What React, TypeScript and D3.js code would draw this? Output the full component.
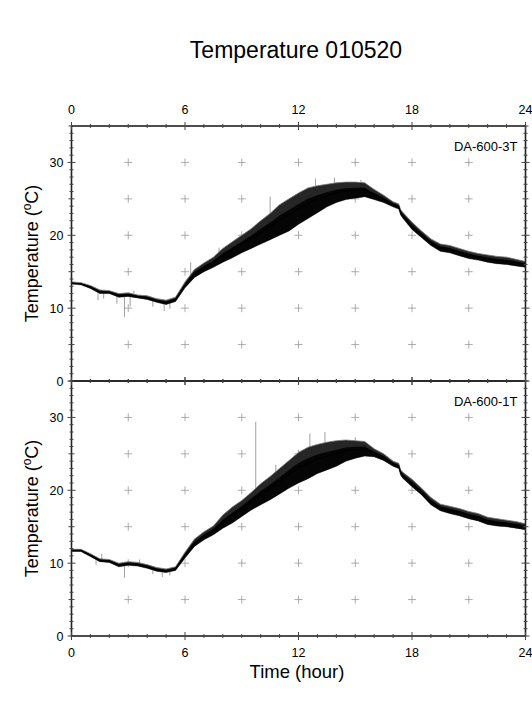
import React from "react";
import * as d3 from "d3";

const hours = [0,0.5,1,1.5,2,2.5,3,3.5,4,4.5,5,5.5,6,6.5,7,7.5,8,8.5,9,9.5,10,10.5,11,11.5,12,12.5,13,13.5,14,14.5,15,15.5,16,16.5,17,17.3,17.4,17.5,18,18.5,19,19.5,20,20.5,21,21.5,22,22.5,23,23.5,24];

const low3T = [13.3,13.2,12.7,12.0,12.0,11.5,11.6,11.4,11.2,10.8,10.5,10.9,12.8,14.2,15.0,15.6,16.3,16.9,17.6,18.2,18.8,19.4,20.0,20.6,21.5,22.3,23.1,23.9,24.5,24.9,25.1,25.3,24.9,24.5,23.9,23.6,22.8,22.4,20.8,19.7,18.6,17.8,17.6,17.2,16.8,16.6,16.3,16.1,16.0,15.8,15.6];
const high3T = [13.6,13.5,13.1,12.5,12.4,12.0,12.1,11.8,11.7,11.3,11.1,11.5,13.6,15.3,16.2,17.0,18.2,19.1,20.0,20.9,22.0,23.0,24.2,25.0,25.8,26.5,26.8,27.0,27.2,27.3,27.3,27.2,26.3,25.5,24.6,24.3,23.5,23.2,21.8,20.6,19.5,18.8,18.6,18.2,17.8,17.5,17.3,17.1,17.0,16.7,16.4];

const low1T = [11.6,11.6,10.9,10.2,10.1,9.5,9.7,9.6,9.3,8.9,8.7,9.0,10.7,12.3,13.2,13.9,14.8,15.5,16.4,17.3,18.0,18.7,19.5,20.3,21.0,21.6,22.3,22.8,23.3,24.0,24.4,24.7,24.6,24.1,23.3,23.0,22.1,21.7,20.5,19.4,18.0,17.2,16.8,16.5,16.1,15.8,15.3,15.1,15.0,14.8,14.6];
const high1T = [11.9,11.9,11.3,10.6,10.5,10.0,10.2,10.1,9.8,9.4,9.2,9.5,11.5,13.3,14.3,15.1,16.6,17.7,18.6,19.7,20.9,21.9,23.0,24.1,25.2,25.9,26.3,26.6,26.8,26.9,26.8,26.7,25.7,25.0,24.0,23.7,22.8,22.5,21.5,20.3,19.0,18.1,17.8,17.5,17.1,16.8,16.3,16.1,15.9,15.7,15.4];

// outlier spikes: [hour, from, to]
const spikes3T: [number, number, number][] = [[1.4,12.2,11.1],[1.7,12.2,11.3],[2.4,11.8,10.6],[2.8,11.8,8.8],[3.1,11.8,10.2],[3.3,11.6,12.4],[4.3,11.3,10.2],[4.9,11.0,9.6],[5.2,11.0,9.9],[6.3,14.5,16.3],[7.8,17.0,18.3],[10.5,22.0,25.3],[12.9,25.5,27.8],[13.9,26.0,27.9],[15.3,26.5,27.6]];
const spikes1T: [number, number, number][] = [[1.3,10.8,9.8],[1.6,10.5,11.3],[2.8,9.8,8.0],[3.6,9.8,10.5],[4.3,9.4,8.5],[4.8,9.2,8.1],[5.2,9.2,8.3],[9.74,19.0,29.4],[10.8,21.0,23.5],[12.6,24.5,27.8],[13.4,25.5,28.0],[15.0,26.0,27.3]];

const panelNames = ["DA-600-3T", "DA-600-1T"];
const xTickLabels = [0, 6, 12, 18, 24];
const yTickLabels = [0, 10, 20, 30];
const title = "Temperature 010520";
const xTitle = "Time (hour)";

const W = 532, H = 708;
const L = 71.5, R = 525.5;
const panels = [
  { top: 126, bottom: 381, low: low3T, high: high3T, spikes: spikes3T, name: panelNames[0] },
  { top: 381, bottom: 636, low: low1T, high: high1T, spikes: spikes1T, name: panelNames[1] },
];
const FONT = "'Liberation Sans', Arial, Helvetica, sans-serif";
const AX = "#222";

export default function App() {
  const x = d3.scaleLinear().domain([0, 24]).range([L, R]);
  const minorX = d3.range(0, 25, 1);
  const gridX = d3.range(3, 24, 3);
  const gridY = d3.range(5, 35, 5);
  const minorY = d3.range(0, 36, 1);

  return (
    <svg width={W} height={H} style={{ position: "absolute", left: 0, top: 0, background: "#fff" }} fontFamily={FONT}>
      <rect x={0} y={0} width={W} height={H} fill="#fff" />
      <text x={296} y={58} fontSize={23} textAnchor="middle" fill="#000">{title}</text>

      {panels.map((p, pi) => {
        const y = d3.scaleLinear().domain([0, 35]).range([p.bottom, p.top]);
        const area = d3.area<number>()
          .x((_, i) => x(hours[i]))
          .y0((_, i) => y(p.low[i]))
          .y1((_, i) => y(p.high[i]));
        const core = d3.area<number>()
          .x((_, i) => x(hours[i]))
          .y0((_, i) => y(p.low[i]))
          .y1((_, i) => y(p.low[i] + (p.high[i] - p.low[i]) * 0.65));
        const mid = d3.line<number>()
          .x((_, i) => x(hours[i]))
          .y((_, i) => y((p.low[i] + p.high[i]) / 2));
        const idx = hours.map((_, i) => i);
        const cy = (p.top + p.bottom) / 2;
        return (
          <g key={pi}>
            {gridX.map(gx => gridY.map(gy => (
              <g key={`${gx}-${gy}`} stroke="#999" strokeWidth={0.8}>
                <line x1={x(gx) - 4} x2={x(gx) + 4} y1={y(gy)} y2={y(gy)} />
                <line x1={x(gx)} x2={x(gx)} y1={y(gy) - 4} y2={y(gy) + 4} />
              </g>
            )))}
            {p.spikes.map((s, i) => (
              <line key={i} x1={x(s[0])} x2={x(s[0])} y1={y(s[1])} y2={y(s[2])} stroke="#888" strokeWidth={0.8} />
            ))}
            <path d={area(idx) || ""} fill="#262626" stroke="#777" strokeWidth={0.8} strokeLinejoin="round" />
            <path d={core(idx) || ""} fill="#050505" />
            <path d={mid(idx) || ""} fill="none" stroke="#000" strokeWidth={1.2} />
            <rect x={L} y={p.top} width={R - L} height={p.bottom - p.top} fill="none" stroke={AX} strokeWidth={1.6} />
            {minorY.map(v => {
              const len = v % 10 === 0 ? 4 : v % 5 === 0 ? 3 : 2;
              return (
                <g key={v} stroke="#444" strokeWidth={1}>
                  <line x1={L - len} x2={L + len} y1={y(v)} y2={y(v)} />
                  <line x1={R - len} x2={R + len} y1={y(v)} y2={y(v)} />
                </g>
              );
            })}
            {yTickLabels.map(v => (
              <text key={v} x={L - 8} y={y(v)} dy="0.36em" fontSize={12.5} textAnchor="end" fill="#000">{v}</text>
            ))}
            {minorX.map(h => {
              const len = h % 6 === 0 ? 4 : 2;
              return (
                <g key={h} stroke="#444" strokeWidth={1}>
                  <line x1={x(h)} x2={x(h)} y1={p.top - len} y2={p.top + len} />
                  <line x1={x(h)} x2={x(h)} y1={p.bottom - len} y2={p.bottom + len} />
                </g>
              );
            })}
            <text x={R - 8} y={p.top + 25} fontSize={13} textAnchor="end" fill="#000">{p.name}</text>
            <text transform={`translate(38,${cy}) rotate(-90)`} fontSize={18} textAnchor="middle" fill="#000">
              Temperature (<tspan fontSize={12} dy={-7}>o</tspan><tspan dy={7}>C)</tspan>
            </text>
          </g>
        );
      })}

      {xTickLabels.map(h => (
        <text key={`t${h}`} x={x(h)} y={114} fontSize={12.5} textAnchor="middle" fill="#000">{h}</text>
      ))}
      {xTickLabels.map(h => (
        <text key={`b${h}`} x={x(h)} y={657} fontSize={12.5} textAnchor="middle" fill="#000">{h}</text>
      ))}
      <text x={297} y={678} fontSize={18.5} textAnchor="middle" fill="#000">{xTitle}</text>
    </svg>
  );
}
